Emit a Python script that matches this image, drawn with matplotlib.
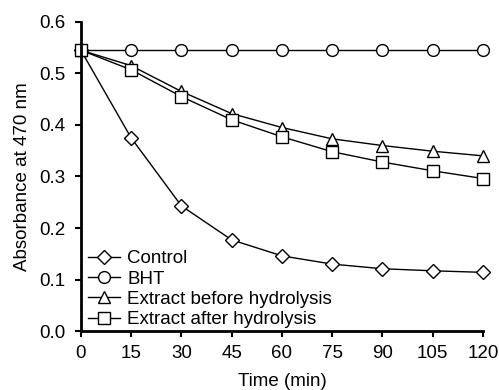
import matplotlib.pyplot as plt

# Absorbance at 470 nm over time for each treatment
time_min = [0, 15, 30, 45, 60, 75, 90, 105, 120]
control = [0.545, 0.375, 0.243, 0.177, 0.146, 0.130, 0.121, 0.117, 0.114]
bht = [0.545, 0.545, 0.545, 0.545, 0.545, 0.545, 0.545, 0.545, 0.545]
before_hydrolysis = [0.545, 0.515, 0.465, 0.422, 0.395, 0.373, 0.360, 0.349, 0.340]
after_hydrolysis = [0.545, 0.507, 0.455, 0.410, 0.377, 0.348, 0.328, 0.311, 0.296]

series = [
    ("Control", control, "D", 7),
    ("BHT", bht, "o", 8.5),
    ("Extract before hydrolysis", before_hydrolysis, "^", 8.5),
    ("Extract after hydrolysis", after_hydrolysis, "s", 8.5),
]

plt.rcParams["font.family"] = ["Liberation Sans", "DejaVu Sans"]
plt.rcParams["font.size"] = 13.5

fig = plt.figure(figsize=(4.99, 3.90), dpi=100)
ax = fig.add_axes([0.162, 0.151, 0.806, 0.793])

for label, values, marker, ms in series:
    ax.plot(time_min, values, color="black", linewidth=1.0, marker=marker,
            markersize=ms, markerfacecolor="white", markeredgecolor="black",
            markeredgewidth=1.0, label=label, clip_on=False)

ax.set_xlim(0, 120)
ax.set_ylim(0, 0.6)
ax.set_xticks(time_min)
ax.set_yticks([0.0, 0.1, 0.2, 0.3, 0.4, 0.5, 0.6])
ax.set_yticklabels(["0.0", "0.1", "0.2", "0.3", "0.4", "0.5", "0.6"])
ax.set_xlabel("Time (min)", labelpad=8)
ax.set_ylabel("Absorbance at 470 nm", labelpad=6)

ax.spines["top"].set_visible(False)
ax.spines["right"].set_visible(False)
ax.spines["left"].set_linewidth(2)
ax.spines["bottom"].set_linewidth(2)
ax.tick_params(axis="x", direction="out", width=1.5, length=4, pad=6)
ax.tick_params(axis="y", direction="out", width=1.5, length=4, pad=7)

ax.legend(loc="lower left", frameon=False, handlelength=1.7, handletextpad=0.37,
          labelspacing=0.17, borderaxespad=0.0, bbox_to_anchor=(0.0, -0.015))

fig.savefig("out.png", dpi=100)
